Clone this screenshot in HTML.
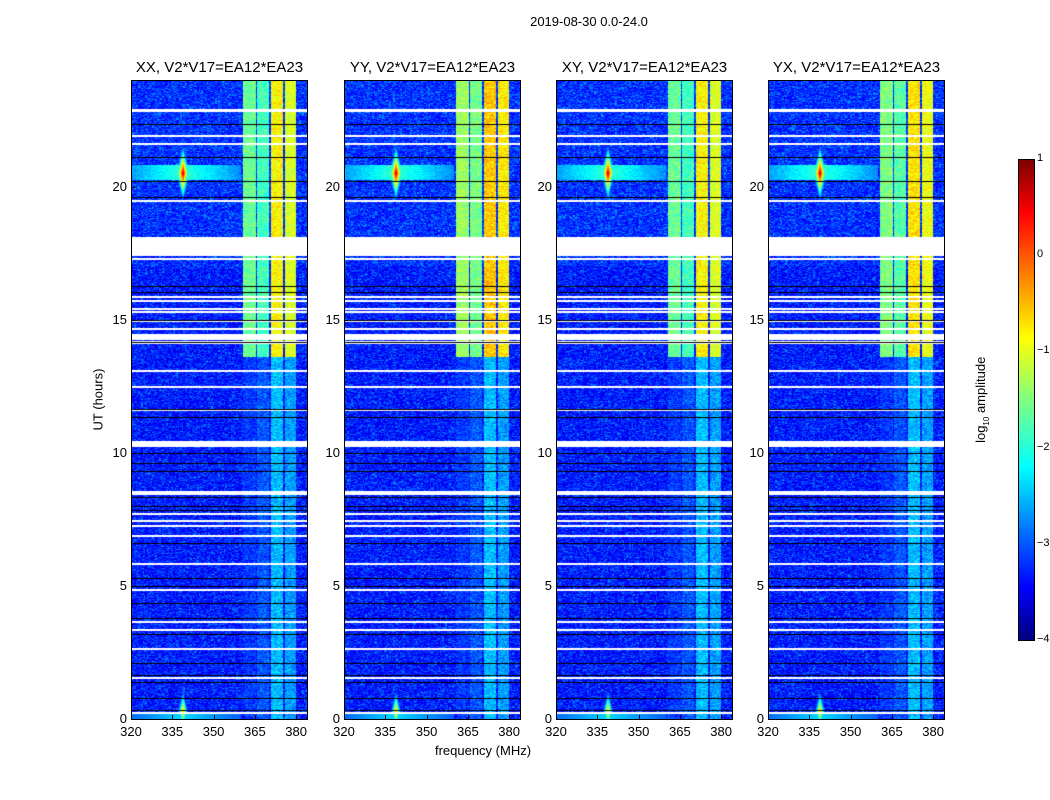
<!DOCTYPE html>
<html><head><meta charset="utf-8"><style>
body{margin:0;background:#fff;}
#wrap{position:relative;width:1050px;height:800px;font-family:"Liberation Sans",sans-serif;color:#000;overflow:hidden;}
.t{position:absolute;white-space:nowrap;}
canvas{position:absolute;}
.frame{position:absolute;border:1px solid #000;box-sizing:border-box;}
</style></head><body>
<div id="wrap">
<div class="t" style="left:489px;top:14px;width:200px;text-align:center;font-size:13px;">2019-08-30 0.0-24.0</div>
<div class="t" style="left:48px;top:392px;width:100px;text-align:center;font-size:13px;transform:rotate(-90deg);">UT (hours)</div>
<div class="t" style="left:383px;top:743px;width:200px;text-align:center;font-size:13px;">frequency (MHz)</div>
<div class="frame" style="left:1018px;top:159px;width:17px;height:482px;background:linear-gradient(to top,#00007f 0%,#0000ff 11%,#007fff 24%,#00ffff 36%,#7fff7f 50%,#ffff00 63%,#ff7f00 76%,#ff0000 89%,#7f0000 100%);"></div>
<div class="t" style="left:922px;top:391px;width:120px;text-align:center;font-size:13px;transform:rotate(-90deg);">log<sub style="font-size:8px">10</sub> amplitude</div>
<div id="cbticks"></div>
<div id="panels"></div>
</div>
<script>
const panelTitles=["XX, V2*V17=EA12*EA23","YY, V2*V17=EA12*EA23","XY, V2*V17=EA12*EA23","YX, V2*V17=EA12*EA23"];
const panelLeft=[131,344,556,768];
const panelGain=[0,0.25,0,0.1];
const xTicks=[320,335,350,365,380];
const yTicks=[0,5,10,15,20];
const cbTicks=[1,0,-1,-2,-3,-4];
// frequency bands [f0,f1,upperLevel,lowerLevel]
const bandF0=[360.6,365.7,370.8,375.8];
const bandF1=[365.3,370.1,375.1,379.8];
const bandUpper=[-1.6,-1.8,-0.85,-1.05];
const bandLower=[-3.1,-2.95,-2.45,-2.6];
const upperStart=13.6;
// flagged (white) time ranges in hours [start,end]
const whiteStart=[22.8,21.85,21.55,19.4,17.45,17.38,17.25,15.8,15.65,15.35,15.25,14.92,14.6,14.25,14.1,13.05,12.45,11.55,10.2,8.4,7.65,7.4,7.2,6.85,5.8,4.8,3.6,3.3,2.6,1.5,0.2];
const whiteEnd=[22.9,21.95,21.65,19.5,18.1,17.45,17.32,15.88,15.72,15.42,15.32,15.0,14.7,14.45,14.2,13.12,12.52,11.62,10.45,8.55,7.72,7.47,7.27,6.92,5.87,4.87,3.67,3.37,2.67,1.57,0.28];
const blackRows=[22.35,21.1,20.2,19.6,16.25,16.05,15.0,14.15,11.65,11.35,10.0,9.6,9.3,8.35,8.0,7.85,6.6,5.3,5.0,4.35,3.8,3.2,2.1,1.65,1.4,0.8,0.35];
// RFI spike
const spikeF=[338.9,338.9];
const spikeH=[20.5,0.3];
const spikeAmp=[0.75,-0.4];

const X0=320,X1=384.3,Y0=0,Y1=24,PW=177,PH=639,PT=80;
function xs(f){return (f-X0)/(X1-X0)*PW;}
function ys(h){return PH-(h-Y0)/(Y1-Y0)*PH;}
function jet(v){let t=(v+4)/5;t=Math.max(0,Math.min(1,t));
 const r=Math.max(0,Math.min(1,1.5-Math.abs(4*t-3))),g=Math.max(0,Math.min(1,1.5-Math.abs(4*t-2))),b=Math.max(0,Math.min(1,1.5-Math.abs(4*t-1)));
 return [r*255,g*255,b*255];}
function hash(a,b,c){let h=(a*374761393+b*668265263+c*2147483647)|0;h=(h^(h>>>13))*1274126177|0;return ((h^(h>>>16))>>>0)/4294967295;}
const P=document.getElementById('panels');
panelLeft.forEach((L,p)=>{
 const c=document.createElement('canvas');c.width=PW;c.height=PH;c.style.left=L+'px';c.style.top=PT+'px';
 
 
 P.appendChild(c);
 const ctx=c.getContext('2d');const img=ctx.createImageData(PW,PH);
 for(let y=0;y<PH;y++){const h=Y1-(y+0.5)/PH*(Y1-Y0);
  for(let x=0;x<PW;x++){const f=X0+(x+0.5)/PW*(X1-X0);
   const ch=Math.floor(x/1.4);
   const n=hash(ch,y,p);
   let v=-3.5+n*n*0.8+(h>17&&h<24?0.12:0);
   for(let b=0;b<bandF0.length;b++){if(f>=bandF0[b]&&f<=bandF1[b]){const lv=h>=upperStart?bandUpper[b]+panelGain[p]:bandLower[b];v=lv+(hash(ch,y,p+7)-0.5)*0.6;}}
   if(h>20.25&&h<20.8&&f<360){v=Math.max(v,-2.0-Math.abs(f-338.9)*0.04+hash(ch,y,p+3)*0.3);}
   if(h<0.2&&f<360)v=Math.max(v,-2.3-Math.abs(f-338.9)*0.03);
   for(let s=0;s<spikeF.length;s++){const d=spikeAmp[s]-Math.abs(f-spikeF[s])*1.5-Math.abs(h-spikeH[s])*3.6;v=Math.max(v,d);}
   let col=jet(v);
   let white=false;for(let k=0;k<whiteStart.length;k++){if(h>=whiteStart[k]&&h<=whiteEnd[k])white=true;}
   const i=(y*PW+x)*4;
   if(white){col=[255,255,255];}
   img.data[i]=col[0];img.data[i+1]=col[1];img.data[i+2]=col[2];img.data[i+3]=255;}}
 ctx.putImageData(img,0,0);
 ctx.fillStyle='#000';
 blackRows.forEach(h=>{ctx.fillRect(0,Math.round(ys(h)),PW,1);});
 const fr=document.createElement('div');fr.className='frame';fr.style.cssText=`left:${L}px;top:${PT}px;width:${PW}px;height:${PH+1}px;`;
 
 
 P.appendChild(fr);
 const tt=document.createElement('div');tt.className='t';tt.textContent=panelTitles[p];
 tt.style.cssText=`left:${L-40}px;top:59px;width:${PW+80}px;text-align:center;font-size:15px;`;
 
 
 P.appendChild(tt);
 xTicks.forEach(v=>{const x=L+xs(v);
  const tk=document.createElement('div');tk.style.cssText=`position:absolute;left:${x}px;top:${PT+PH-4}px;width:1px;height:4px;background:#000`;
  
  
  P.appendChild(tk);
  const lb=document.createElement('div');lb.className='t';lb.textContent=v;lb.style.cssText=`left:${x-20}px;top:724px;width:40px;text-align:center;font-size:13px;`;
  
  
  P.appendChild(lb);});
 yTicks.forEach(v=>{const y=PT+ys(v);
  const tk=document.createElement('div');tk.style.cssText=`position:absolute;left:${L}px;top:${y}px;width:4px;height:1px;background:#000`;
  
  
  P.appendChild(tk);
  const lb=document.createElement('div');lb.className='t';lb.textContent=v;lb.style.cssText=`left:${L-44}px;top:${y-8}px;width:40px;text-align:right;font-size:13px;`;
  
  
  P.appendChild(lb);});
});
const CB=document.getElementById('cbticks');
cbTicks.forEach(v=>{const y=159+(1-v)/5*481;
 const lb=document.createElement('div');lb.className='t';lb.textContent=v<0?'\u2212'+(-v):v;
 lb.style.cssText=`left:1037px;top:${y-7}px;width:30px;text-align:left;font-size:11px;`;
 
 
 CB.appendChild(lb);});
</script>
</body></html>
